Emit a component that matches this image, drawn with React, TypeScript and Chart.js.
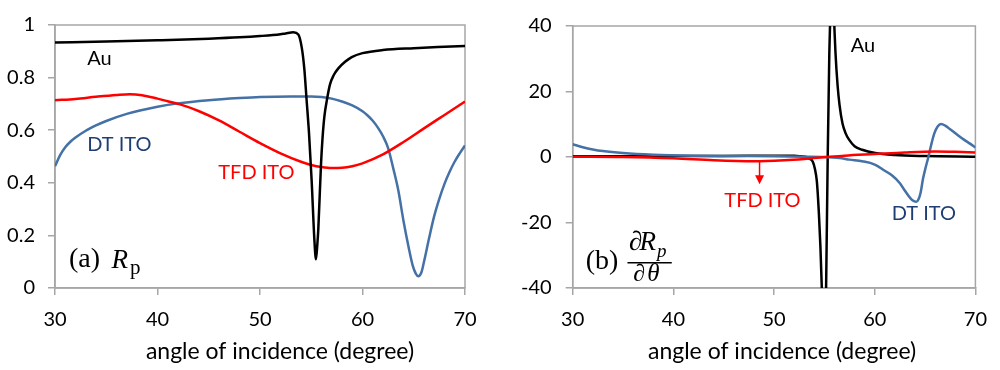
import React, { useEffect, useRef } from 'react';
import { Chart, registerables } from 'chart.js';

Chart.register(...registerables);

// ---------- Panel (a): Rp vs angle ----------
const xTicks = [30, 40, 50, 60, 70];

const auAngles = [30, 35, 40, 45, 48, 50, 52, 52.5, 53.25, 53.74, 54.07, 54.32, 54.55, 54.78, 55.04, 55.3, 55.46, 55.6, 55.69, 55.95, 56.1, 56.28, 56.55, 56.83, 57.2, 57.64, 58.3, 58.95, 60, 62, 65, 68, 70];
const auRp = [0.933, 0.937, 0.942, 0.948, 0.953, 0.958, 0.965, 0.968, 0.972, 0.964, 0.915, 0.835, 0.713, 0.59, 0.408, 0.188, 0.109, 0.17, 0.225, 0.469, 0.57, 0.652, 0.72, 0.774, 0.81, 0.835, 0.86, 0.878, 0.893, 0.905, 0.912, 0.917, 0.92];

const dtAngles = [30, 30.5, 31, 31.5, 32, 33, 34, 35, 37, 40, 42, 45, 48, 50, 53, 55, 56, 57, 58, 59, 60, 60.5, 61, 61.5, 62, 62.5, 63, 63.5, 64, 64.5, 64.9, 65.2, 65.45, 65.75, 66, 66.5, 67, 67.5, 68, 68.5, 69, 69.5, 70];
const dtRp = [0.463, 0.505, 0.535, 0.556, 0.572, 0.598, 0.618, 0.635, 0.662, 0.689, 0.702, 0.714, 0.722, 0.726, 0.728, 0.728, 0.726, 0.72, 0.709, 0.694, 0.672, 0.656, 0.636, 0.61, 0.577, 0.532, 0.455, 0.37, 0.255, 0.155, 0.085, 0.055, 0.045, 0.06, 0.10, 0.19, 0.274, 0.34, 0.396, 0.442, 0.481, 0.513, 0.542];

const tfdAngles = [30, 32, 34, 36, 37.3, 38.5, 40, 41, 42.2, 44, 46, 48, 50, 52, 54, 55, 56, 57, 58, 59, 60, 62, 64, 66, 68, 70];
const tfdRp = [0.714, 0.719, 0.727, 0.734, 0.737, 0.733, 0.72, 0.71, 0.698, 0.673, 0.637, 0.594, 0.551, 0.512, 0.48, 0.468, 0.46, 0.456, 0.457, 0.463, 0.474, 0.508, 0.555, 0.607, 0.658, 0.709];

const rpTicks = [0, 0.2, 0.4, 0.6, 0.8, 1];

// ---------- Panel (b): dRp/dtheta vs angle ----------
const auDAngles = [30, 40, 45, 50, 52, 52.7, 53.21, 53.5, 53.86, 54.05, 54.25, 54.45, 54.6, 54.74, 54.85, 54.95, 55.05, 55.17, 55.33, 55.49, 55.6, 55.75, 55.9, 55.98, 56.1, 56.31, 56.5, 56.8, 57.1, 57.45, 58, 58.75, 60.05, 62, 65, 70];
const auDeriv = [0.2, 0.3, 0.3, 0.4, 0.4, 0.2, 0, -0.5, -1.5, -3.5, -7.4, -17, -27, -39.6, -55, -65, -60, -40, 0, 31.7, 45, 55, 46, 40.5, 32, 21.9, 16, 10.2, 7.3, 5.3, 3.3, 2.2, 1.2, 0.6, 0.3, 0.1];

const dtDAngles = [30, 31, 32, 33, 35, 38, 42, 46, 50, 53, 55, 56.5, 57.5, 58.75, 60, 61, 61.7, 62.5, 63, 63.6, 63.9, 64.13, 64.35, 64.55, 64.8, 65.05, 65.33, 65.6, 65.92, 66.25, 66.58, 67, 67.56, 68.2, 68.86, 69.5, 70];
const dtDeriv = [3.9, 3.0, 2.3, 1.8, 1.2, 0.7, 0.4, 0.3, 0.2, 0.1, 0, -0.3, -0.8, -1.3, -2.3, -4.2, -5.6, -8, -10.3, -12.8, -13.5, -13.7, -12.9, -11.0, -6.6, -3.3, 0, 3.6, 7.2, 9.3, 10.1, 9.6, 8.3, 6.8, 5.3, 4.0, 2.9];

const tfdDAngles = [30, 35, 40, 44, 48, 51, 53, 55.3, 57, 60, 63, 66, 68, 70];
const tfdDeriv = [0.1, 0, -0.4, -1.0, -1.3, -1.0, -0.6, 0, 0.4, 0.9, 1.4, 1.7, 1.6, 1.4];

const derivTicks = [-40, -20, 0, 20, 40];

// ---------- styles ----------
const BLACK = '#000000';
const RED = '#FF0000';
const BLUE = '#4471A6';
const NAVY = '#1F3F74';
const FRAME = '#A6A6A6';
const SANS = 'Lato';
const SERIF = '"Liberation Serif", "Times New Roman", serif';
const AXIS_TITLE = 'angle of incidence (degree)';

const pts = (xs: number[], ys: number[]) => xs.map((x, i) => ({ x, y: ys[i] }));

type Txt = { text: string; x: number; y: number; color: string; font: string };
type Seg = { x1: number; y1: number; x2: number; y2: number; color: string; width: number; arrow?: boolean };

function makePlugin(texts: Txt[], segs: Seg[], titleOffset: number) {
  return {
    id: 'annot',
    beforeDatasetsDraw(chart: any) {
      const { ctx, chartArea } = chart;
      ctx.save();
      ctx.strokeStyle = FRAME;
      ctx.lineWidth = 1.5;
      ctx.strokeRect(chartArea.left, chartArea.top, chartArea.right - chartArea.left, chartArea.bottom - chartArea.top);
      ctx.restore();
    },
    afterDatasetsDraw(chart: any) {
      const { ctx, chartArea, scales } = chart;
      const xs = scales.x;
      const ys = scales.y;
      ctx.save();
      for (const t of texts) {
        ctx.font = t.font;
        ctx.fillStyle = t.color;
        ctx.textAlign = 'left';
        ctx.textBaseline = 'alphabetic';
        ctx.fillText(t.text, xs.getPixelForValue(t.x), ys.getPixelForValue(t.y));
      }
      for (const s of segs) {
        const x1 = xs.getPixelForValue(s.x1), y1 = ys.getPixelForValue(s.y1);
        const x2 = xs.getPixelForValue(s.x2), y2 = ys.getPixelForValue(s.y2);
        ctx.strokeStyle = s.color;
        ctx.fillStyle = s.color;
        ctx.lineWidth = s.width;
        ctx.beginPath();
        if (s.arrow) {
          const head = 9;
          ctx.moveTo(x1, y1);
          ctx.lineTo(x2, y2 - head + 1);
          ctx.stroke();
          ctx.beginPath();
          ctx.moveTo(x2, y2);
          ctx.lineTo(x2 - 4.5, y2 - head);
          ctx.lineTo(x2 + 4.5, y2 - head);
          ctx.closePath();
          ctx.fill();
        } else {
          ctx.moveTo(x1, y1);
          ctx.lineTo(x2, y2);
          ctx.stroke();
        }
      }
      // axis title
      ctx.font = `23px ${SANS}`;
      ctx.fillStyle = BLACK;
      ctx.textAlign = 'center';
      ctx.textBaseline = 'alphabetic';
      ctx.fillText(AXIS_TITLE, (chartArea.left + chartArea.right) / 2 + titleOffset, chartArea.bottom + 71);
      ctx.restore();
    },
  };
}

function scaleOpts(min: number, max: number, ticks: number[], yWidth: number, yPad: number, fmt?: (v: number) => string) {
  const tickFont = { family: SANS, size: 20 };
  const grid = { display: true, drawOnChartArea: false, drawTicks: true, tickLength: 7, color: FRAME, lineWidth: 1.5 };
  const border = { display: true, color: FRAME, width: 1.5 };
  return {
    x: {
      type: 'linear',
      min: 30,
      max: 70,
      afterBuildTicks: (s: any) => { s.ticks = xTicks.map((v) => ({ value: v })); },
      ticks: { font: tickFont, color: BLACK, padding: 13, maxRotation: 0, autoSkip: false },
      grid,
      border,
      afterFit: (s: any) => { s.height = 82; },
    },
    y: {
      type: 'linear',
      min,
      max,
      afterBuildTicks: (s: any) => { s.ticks = ticks.map((v) => ({ value: v })); },
      ticks: { font: tickFont, color: BLACK, padding: yPad, autoSkip: false, callback: (v: number) => (fmt ? fmt(v) : String(v)) },
      grid,
      border,
      afterFit: (s: any) => { s.width = yWidth; },
    },
  };
}

function useChart(ref: React.RefObject<HTMLCanvasElement>, build: () => any) {
  useEffect(() => {
    if (!ref.current) return;
    const chart = new Chart(ref.current, build());
    return () => chart.destroy();
  }, []);
}

const lineDs = (label: string, data: any[], color: string, order: number) => ({
  label,
  data,
  borderColor: color,
  backgroundColor: color,
  borderWidth: 2.5,
  pointRadius: 0,
  fill: false,
  cubicInterpolationMode: 'monotone',
  order,
});

export default function App() {
  const leftRef = useRef<HTMLCanvasElement>(null);
  const rightRef = useRef<HTMLCanvasElement>(null);

  useChart(leftRef, () => ({
    type: 'line',
    data: {
      datasets: [
        lineDs('Au', pts(auAngles, auRp), BLACK, 0),
        lineDs('TFD ITO', pts(tfdAngles, tfdRp), RED, 1),
        lineDs('DT ITO', pts(dtAngles, dtRp), BLUE, 2),
      ],
    },
    options: {
      responsive: false,
      animation: false,
      layout: { padding: { top: 15, right: 35, left: 0, bottom: 0 } },
      plugins: { legend: { display: false }, tooltip: { enabled: false } },
      scales: scaleOpts(0, 1, rpTicks, 55, 13, (v) => String(Math.round(v * 10) / 10)),
    },
    plugins: [
      makePlugin(
        [
          { text: 'Au', x: 33.15, y: 0.847, color: BLACK, font: `20px ${SANS}` },
          { text: 'DT ITO', x: 33.15, y: 0.52, color: NAVY, font: `20px ${SANS}` },
          { text: 'TFD ITO', x: 45.93, y: 0.414, color: RED, font: `20px ${SANS}` },
          { text: '(a)', x: 31.37, y: 0.078, color: BLACK, font: `28px ${SERIF}` },
          { text: 'R', x: 35.5, y: 0.075, color: BLACK, font: `italic 27px ${SERIF}` },
          { text: 'p', x: 37.32, y: 0.055, color: BLACK, font: `21px ${SERIF}` },
        ],
        [],
        20,
      ),
    ],
  }));

  useChart(rightRef, () => ({
    type: 'line',
    data: {
      datasets: [
        lineDs('TFD ITO', pts(tfdDAngles, tfdDeriv), RED, 0),
        lineDs('DT ITO', pts(dtDAngles, dtDeriv), BLUE, 1),
        lineDs('Au', pts(auDAngles, auDeriv), BLACK, 2),
      ],
    },
    options: {
      responsive: false,
      animation: false,
      layout: { padding: { top: 15, right: 18.3, left: 0, bottom: 0 } },
      plugins: { legend: { display: false }, tooltip: { enabled: false } },
      scales: scaleOpts(-40, 40, derivTicks, 72.7, 14),
    },
    plugins: [
      makePlugin(
        [
          { text: 'Au', x: 57.61, y: 32.2, color: BLACK, font: `20px ${SANS}` },
          { text: 'TFD ITO', x: 45.06, y: -15.2, color: RED, font: `20px ${SANS}` },
          { text: 'DT ITO', x: 61.69, y: -19.1, color: NAVY, font: `20px ${SANS}` },
          { text: '(b)', x: 31.3, y: -34.23, color: BLACK, font: `28px ${SERIF}` },
          { text: '\u2202', x: 35.6, y: -28.3, color: BLACK, font: `27px ${SERIF}` },
          { text: 'R', x: 36.63, y: -28.3, color: BLACK, font: `italic 27px ${SERIF}` },
          { text: 'p', x: 38.37, y: -30.4, color: BLACK, font: `italic 19px ${SERIF}` },
          { text: '\u2202', x: 36.02, y: -37.9, color: BLACK, font: `24px ${SERIF}` },
          { text: '\u03B8', x: 37.4, y: -37.9, color: BLACK, font: `italic 25px ${SERIF}` },
        ],
        [
          { x1: 35.44, y1: -32.29, x2: 39.84, y2: -32.29, color: BLACK, width: 1.3 },
          { x1: 48.56, y1: -1.0, x2: 48.56, y2: -8.35, color: RED, width: 1.5, arrow: true },
        ],
        8,
      ),
    ],
  }));

  return (
    <div style={{ position: 'absolute', left: 0, top: 0, width: 1000, height: 370, background: '#fff' }}>
      <canvas ref={leftRef} width={500} height={370} style={{ position: 'absolute', left: 0, top: 0 }} />
      <canvas ref={rightRef} width={500} height={370} style={{ position: 'absolute', left: 500, top: 0 }} />
    </div>
  );
}
